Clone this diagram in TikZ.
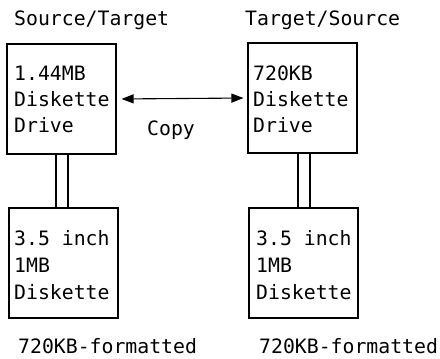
\documentclass[tikz,border=0pt]{standalone}
\usepackage{fontspec}
\setmonofont{DejaVu Sans Mono}
\usetikzlibrary{arrows.meta}
\begin{document}
\begin{tikzpicture}[x=1pt,y=-1pt,
  boxnode/.style={draw,line width=1.1pt,minimum width=109pt,minimum height=110pt,inner sep=0pt},
  txt/.style={anchor=base west,inner sep=0pt,font=\ttfamily\fontsize{19.8}{26}\selectfont},
  link/.style={line width=1.1pt},
  tip/.tip={Triangle[length=12pt,width=9pt]}]
\useasboundingbox (0,0) rectangle (440,359);
\node[boxnode] (b1) at (61.5,99) {};
\node[boxnode] (b2) at (302.5,98) {};
\node[boxnode] (b3) at (63.5,263) {};
\node[boxnode] (b4) at (303.5,263) {};
% titles
\node[txt] (t1) at (14,25) {Source/Target};
\node[txt] (t2) at (245,25) {Target/Source};
\node[txt] (t3) at (18,353) {720KB-formatted};
\node[txt] (t4) at (259,353) {720KB-formatted};
\node[txt] (cp) at (147,135) {Copy};
% box texts
\node[txt] (l1a) at (14,80) {1.44MB};
\node[txt] (l1b) at (14,106) {Diskette};
\node[txt] (l1c) at (14,132) {Drive};
\node[txt] (l2a) at (253,80) {720KB};
\node[txt] (l2b) at (253,106) {Diskette};
\node[txt] (l2c) at (253,132) {Drive};
\node[txt] (l3a) at (14,245) {3.5 inch};
\node[txt] (l3b) at (14,272) {1MB};
\node[txt] (l3c) at (14,299) {Diskette};
\node[txt] (l4a) at (256,245) {3.5 inch};
\node[txt] (l4b) at (256,272) {1MB};
\node[txt] (l4c) at (256,299) {Diskette};
% arrow
\draw[line width=1.1pt,tip-tip,shorten <=5pt,shorten >=4pt] (b1.east) -- (b2.west);
% double links
\draw[link] ([xshift=-5.5pt]b1.south) -- ([xshift=-5.5pt]b1.south |- b3.north);
\draw[link] ([xshift=6.5pt]b1.south) -- ([xshift=6.5pt]b1.south |- b3.north);
\draw[link] ([xshift=-4.5pt]b2.south) -- ([xshift=-4.5pt]b2.south |- b4.north);
\draw[link] ([xshift=7.5pt]b2.south) -- ([xshift=7.5pt]b2.south |- b4.north);
\end{tikzpicture}
\end{document}
